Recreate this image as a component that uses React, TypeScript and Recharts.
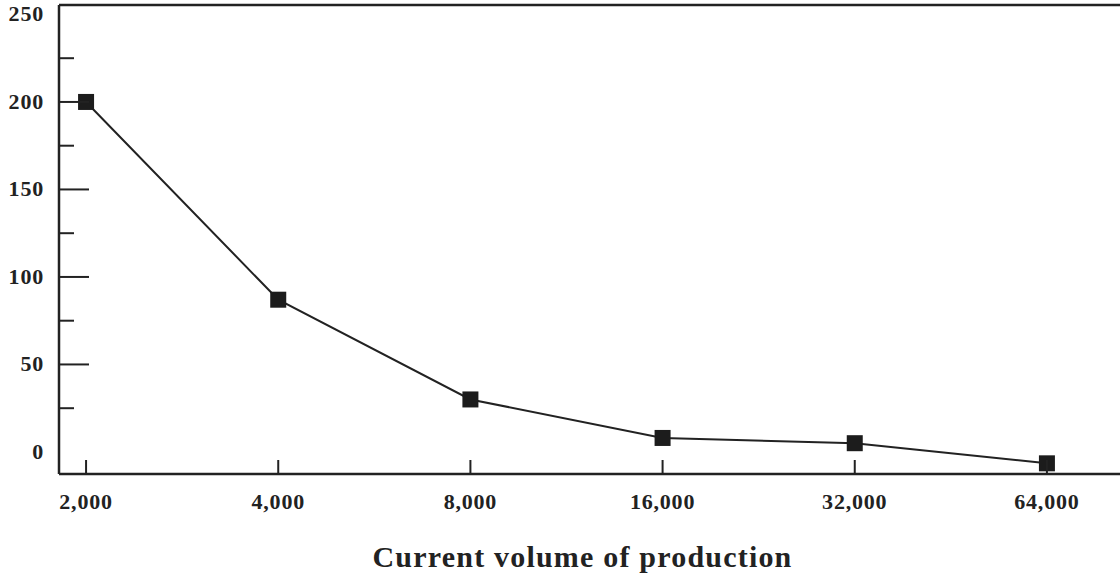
import React from 'react';
import { LineChart, Line, XAxis, YAxis, ReferenceLine } from 'recharts';

// volumes on the x axis (log scale, doubling) and cost per unit
const volumes = [2000, 4000, 8000, 16000, 32000, 64000];
const costs = [200, 87, 30, 8, 5, -6.5];
const yTicks = [0, 25, 50, 75, 100, 125, 150, 175, 200, 225, 250];

const data = volumes.map((v, i) => ({ volume: v, cost: costs[i] }));

const INK = '#222';
const FONT = '"Liberation Serif", "Times New Roman", serif';

function YTick(props: any) {
  const { x, y, payload } = props;
  const v = payload.value;
  const major = v % 50 === 0;
  // the figure has no tick marks at 0 and at the top
  const showLine = v !== 0 && v !== 250;
  return (
    <g>
      {showLine && (
        <line x1={x + 15} x2={x + 15 + (major ? 30 : 15)} y1={y} y2={y} stroke={INK} strokeWidth={2} />
      )}
      {major && (
        <text x={x} y={y + 7} textAnchor="end" fill={INK} fontFamily={FONT} fontWeight="bold" fontSize={22} letterSpacing={0.8}>
          {v}
        </text>
      )}
    </g>
  );
}

function XTick(props: any) {
  const { x, y, payload } = props;
  return (
    <g>
      <line x1={x} x2={x} y1={y} y2={y - 14} stroke={INK} strokeWidth={2} />
      <text x={x} y={y + 35} textAnchor="middle" fill={INK} fontFamily={FONT} fontWeight="bold" fontSize={22} letterSpacing={0.8}>
        {payload.value.toLocaleString('en-US')}
      </text>
    </g>
  );
}

function AxisTitle(props: any) {
  const { viewBox } = props;
  if (!viewBox) return null;
  return (
    <text x={viewBox.x + viewBox.width / 2 - 7} y={viewBox.y + 93} textAnchor="middle" fill={INK} fontFamily={FONT} fontWeight="bold" fontSize={30} letterSpacing={1.2}>
      Current volume of production
    </text>
  );
}

function SquareDot(props: any) {
  const { cx, cy, index } = props;
  return <rect key={'dot-' + index} x={cx - 8} y={cy - 8} width={16} height={16} fill="#1c1c1c" />;
}

export default function App() {
  return (
    <div style={{ position: 'absolute', left: 0, top: 0, width: 1120, height: 573, background: '#fff' }}>
      <LineChart width={1120} height={573} data={data} margin={{ top: 5, right: 0, bottom: 0, left: 0 }}>
        <XAxis
          dataKey="volume"
          type="number"
          scale="log"
          domain={[1814, 83300]}
          allowDataOverflow
          ticks={volumes}
          tick={<XTick />}
          tickLine={false}
          tickSize={0}
          tickMargin={0}
          height={99}
          axisLine={{ stroke: INK, strokeWidth: 2.5 }}
          label={<AxisTitle />}
        />
        <YAxis
          type="number"
          domain={[-12.6, 255.4]}
          allowDataOverflow
          ticks={yTicks}
          interval={0}
          tick={<YTick />}
          tickLine={false}
          tickSize={0}
          tickMargin={15}
          width={59}
          axisLine={{ stroke: INK, strokeWidth: 2.5 }}
        />
        <ReferenceLine y={255.4} stroke={INK} strokeWidth={2.5} />
        <Line
          type="linear"
          dataKey="cost"
          stroke={INK}
          strokeWidth={2}
          dot={SquareDot}
          activeDot={false}
          isAnimationActive={false}
        />
      </LineChart>
    </div>
  );
}
